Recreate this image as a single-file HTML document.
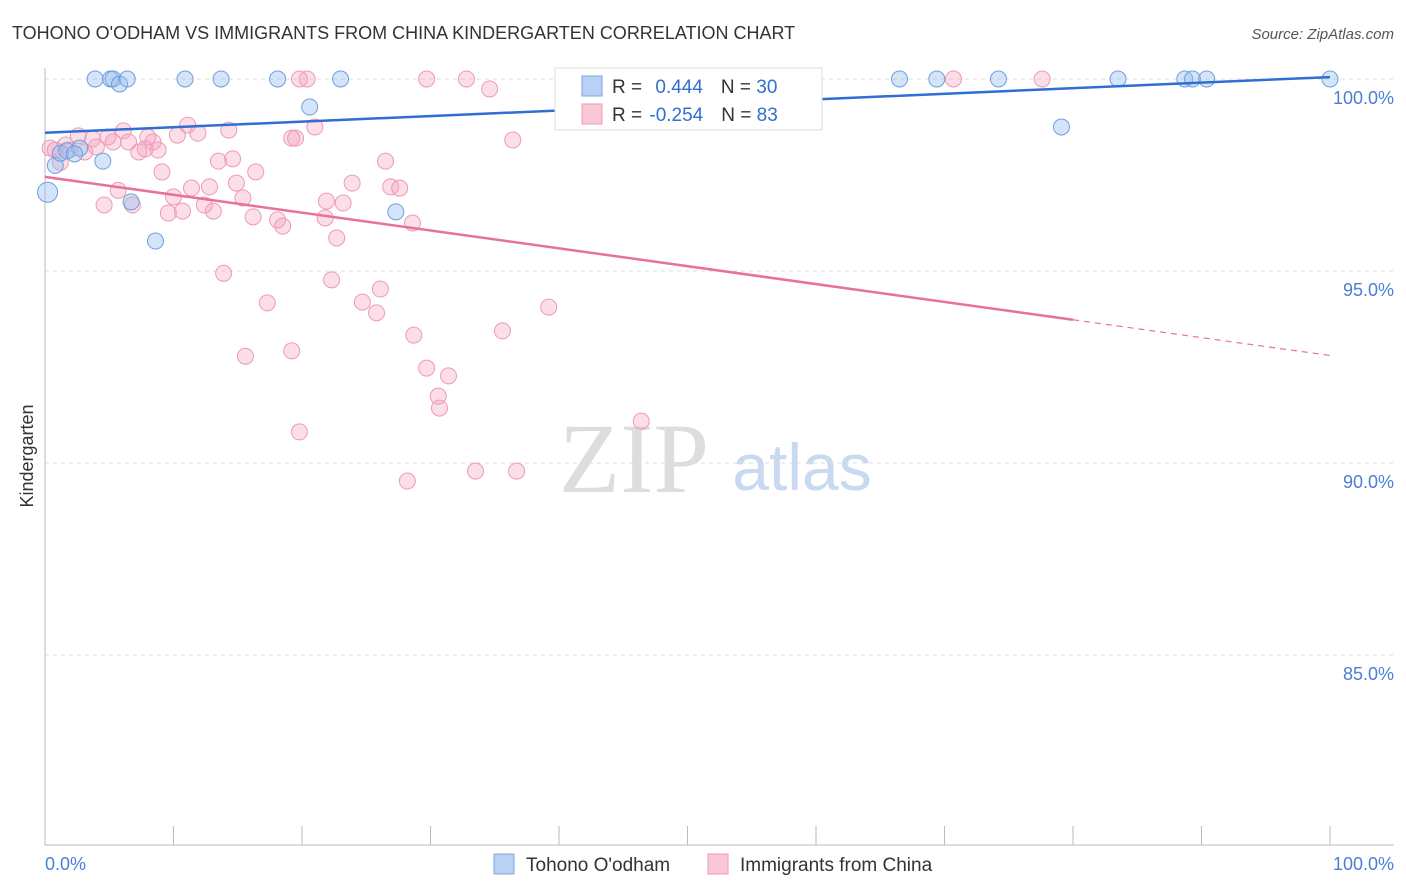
<!DOCTYPE html>
<html><head><meta charset="utf-8">
<style>
body{margin:0;background:#fff;font-family:"Liberation Sans",sans-serif;}
svg{display:block}
</style></head>
<body>
<svg id="chart" width="1406" height="892" xmlns="http://www.w3.org/2000/svg">
<text x="12" y="39" font-size="18" fill="#333">TOHONO O'ODHAM VS IMMIGRANTS FROM CHINA KINDERGARTEN CORRELATION CHART</text>
<text x="1394" y="39" font-size="15" fill="#555" text-anchor="end" font-style="italic">Source: ZipAtlas.com</text>
<text x="634" y="492" font-size="100" fill="#ddd" font-family="Liberation Serif,serif" text-anchor="middle">ZIP</text>
<text x="802" y="490" font-size="66" fill="#c9d9ef" text-anchor="middle">atlas</text>
<g id="grid"></g>
<g id="axes"></g>
<g id="pts"></g>
<g id="lines"></g>
<text transform="translate(33,456) rotate(-90)" font-size="18" fill="#333" text-anchor="middle">Kindergarten</text>
<text x="45" y="870" font-size="18" fill="#4a7fd4">0.0%</text>
<text x="1394" y="870" font-size="18" fill="#4a7fd4" text-anchor="end">100.0%</text>
<g>
<rect x="555" y="68" width="267" height="62" fill="#fff" stroke="#ddd"/>
<rect x="582" y="76" width="20" height="20" fill="#b9d2f3" stroke="#7aa6e0"/>
<rect x="582" y="104" width="20" height="20" fill="#f9c7d7" stroke="#ee9ab5"/>
<text x="612" y="93" font-size="19" fill="#333">R = <tspan fill="#2f6fd1" dx="8">0.444</tspan><tspan dx="18">N = </tspan><tspan fill="#2f6fd1">30</tspan></text>
<text x="612" y="121" font-size="19" fill="#333">R = <tspan fill="#2f6fd1" dx="2">-0.254</tspan><tspan dx="18">N = </tspan><tspan fill="#2f6fd1">83</tspan></text>
</g>
<g>
<rect x="494" y="854" width="20" height="20" fill="#b9d2f3" stroke="#7aa6e0"/>
<text x="526" y="871" font-size="19" fill="#333">Tohono O'odham</text>
<rect x="708" y="854" width="20" height="20" fill="#f9c7d7" stroke="#ee9ab5"/>
<text x="740" y="871" font-size="19" fill="#333">Immigrants from China</text>
</g>
</svg>
<script>
const yTicks=[100,95,90,85];
const yTickLabels=["100.0%","95.0%","90.0%","85.0%"];
const xTicks=[0,10,20,30,40,50,60,70,80,90,100];
const blueX=[0.2,0.8,3.9,5.1,5.3,5.8,6.4,4.5,6.7,8.6,10.9,13.7,18.1,20.6,23.0,27.3,47.6,66.5,69.4,74.2,79.1,83.5,88.7,89.3,90.4,100,1.2,1.7,2.7,2.3];
const blueY=[97.05,97.75,100,100,100,99.87,100,97.86,96.8,95.78,100,100,100,99.27,100,96.54,100,100,100,100,98.75,100,100,100,100,100,98.07,98.13,98.2,98.05];
const pinkX=[0.4,0.8,1.2,1.6,1.9,2.6,3.1,3.7,4.0,4.6,4.9,5.3,5.7,6.1,6.5,6.8,7.3,7.8,8.0,8.4,8.8,9.1,9.6,10.0,10.3,10.7,11.1,11.4,11.9,12.4,12.8,13.1,13.5,13.9,14.3,14.6,14.9,15.4,15.6,16.2,16.4,17.3,18.1,18.5,19.2,19.2,19.5,19.8,20.4,21.0,21.8,21.9,22.3,22.7,23.2,23.9,24.7,25.8,26.1,26.5,26.9,27.6,28.6,28.7,28.2,29.7,30.6,30.7,31.4,29.7,33.5,34.6,35.6,36.4,36.7,32.8,39.2,40.9,46.4,70.7,77.6,19.8];
const pinkY=[98.2,98.15,97.83,98.28,98.15,98.52,98.1,98.44,98.23,96.72,98.49,98.36,97.1,98.65,98.36,96.72,98.1,98.18,98.49,98.36,98.15,97.58,96.51,96.93,98.54,96.56,98.8,97.16,98.59,96.72,97.19,96.56,97.86,94.94,98.67,97.92,97.29,96.9,92.78,96.41,97.58,94.17,96.33,96.17,92.92,98.46,98.46,90.81,100,98.75,96.38,96.82,94.77,95.86,96.77,97.29,94.19,93.91,94.53,97.86,97.19,97.16,96.25,93.33,89.53,92.47,91.74,91.43,92.27,100,89.79,99.74,93.44,98.41,89.79,100,94.06,100,91.09,100,100,100];
const X=v=>45+v*12.85, Y=v=>79+(100-v)*38.4;
const NS="http://www.w3.org/2000/svg";
function mk(t,a,p){const e=document.createElementNS(NS,t);for(const k in a)e.setAttribute(k,a[k]);p.appendChild(e);return e;}
const grid=document.getElementById('grid'),axes=document.getElementById('axes'),pts=document.getElementById('pts'),lines=document.getElementById('lines');
yTicks.forEach((t,i)=>{
 const g=mk('line',{x1:45,x2:1394,y1:Y(t),y2:Y(t),stroke:'#ddd','stroke-dasharray':'4,4'},grid);
 
 
 const l=mk('text',{x:1394,y:Y(t)+25,'font-size':18,fill:'#4a7fd4','text-anchor':'end'},grid);
 l.textContent=yTickLabels[i];
 
 
});
const ax=mk('path',{d:'M45,68V845H1394',stroke:'#bbb',fill:'none'},axes);


xTicks.forEach(t=>{
 const tk=mk('line',{x1:X(t),x2:X(t),y1:826,y2:845,stroke:'#bbb'},axes);
 
 
});
pinkX.forEach((v,i)=>{
 const c=mk('circle',{cx:X(v),cy:Y(pinkY[i]),r:8,fill:'rgba(244,160,190,0.35)',stroke:'#ee9ab5','stroke-width':1},pts);
 
 
});
blueX.forEach((v,i)=>{
 const c=mk('circle',{cx:X(v),cy:Y(blueY[i]),r:i==0?10:8,fill:'rgba(150,190,240,0.4)',stroke:'#6e9fdc','stroke-width':1},pts);
 
 
});
const bl=mk('line',{x1:X(0),y1:Y(98.6),x2:X(100),y2:Y(100.05),stroke:'#2f6fd1','stroke-width':2.5},lines);


const pl=mk('line',{x1:X(0),y1:Y(97.45),x2:X(80),y2:Y(93.73),stroke:'#e8709a','stroke-width':2.5},lines);


const pd=mk('line',{x1:X(80),y1:Y(93.73),x2:X(100),y2:Y(92.8),stroke:'#e8709a','stroke-width':1.2,'stroke-dasharray':'6,5'},lines);


</script>
</body></html>
